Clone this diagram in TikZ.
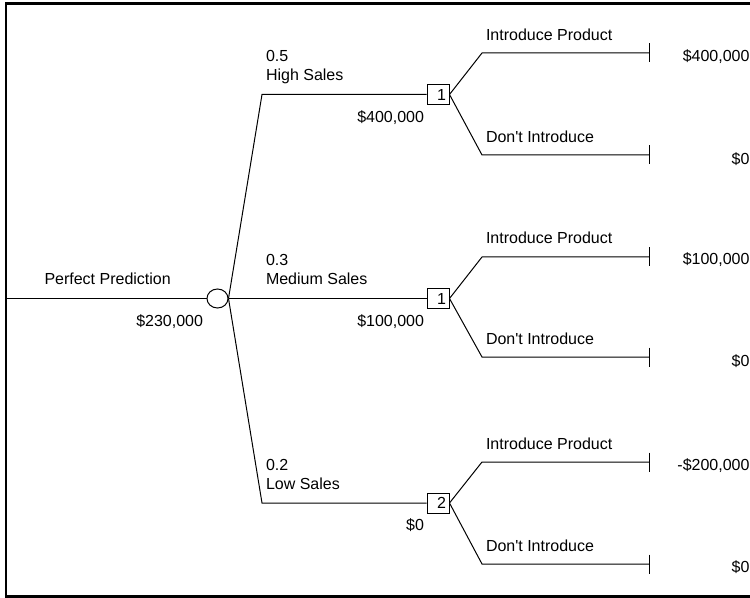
\documentclass[tikz,border=0pt]{standalone}
\usepackage{fontspec}
\setmainfont{Liberation Sans}
\usetikzlibrary{shapes.geometric,positioning}

\begin{document}
\begin{tikzpicture}
    [x=0.5bp, y=-0.5bp, line width=0.5bp,
    every node/.style={font=\fontsize{8bp}{9.5bp}\selectfont, inner sep=0pt},
    chance/.style={draw, ellipse, minimum width=10.5bp, minimum height=9.5bp},
    decision/.style={draw, rectangle, minimum height=10bp, text width=8bp,
      align=right, inner xsep=1.5bp},
    txt/.style={anchor=base west},
    val/.style={anchor=base east}]
  \useasboundingbox (0,0) rectangle (750,598);
  \clip (0,0) rectangle (750,598);
  % frame
  \draw[line width=1.25bp] (760,3.5) -- (6,3.5) -- (6,596.5) -- (760,596.5);

  % nodes
  \coordinate (R) at (6,298.5);
  \node[chance] (C) at (217.5,298.5) {};
  \node[decision] (D1) at (438,94.5) {1};
  \node[decision] (D2) at (438,298.5) {1};
  \node[decision] (D3) at (438,503) {2};
  \coordinate (T11) at (649,53);
  \coordinate (T12) at (649,155);
  \coordinate (T21) at (649,257);
  \coordinate (T22) at (649,357);
  \coordinate (T31) at (649,462);
  \coordinate (T32) at (649,564);

  % branches
  \draw (R) -- (C);
  \draw (C.east) -- (262,0 |- D1) -- (D1);
  \draw (C.east) -- (D2);
  \draw (C.east) -- (262,0 |- D3) -- (D3);
  \foreach \d/\a/\b in {D1/T11/T12, D2/T21/T22, D3/T31/T32} {
    \draw (\d.east) -- (482,0 |- \a) -- (\a);
    \draw (\d.east) -- (482,0 |- \b) -- (\b);
  }
  \foreach \t in {T11,T12,T21,T22,T31,T32}
    \draw (\t) ++(0,-9.5) -- ++(0,19);

  % labels
  \node[txt] (L0) at (44,285) {Perfect Prediction};
  \node[val] (V0) at (203.5,326) {\$230,000};

  \node[txt] (P1) at (265.5,62) {0.5};
  \node[txt] (N1) at (265.5,81) {High Sales};
  \node[val] (V1) at (424.5,122.5) {\$400,000};
  \node[txt] (P2) at (265.5,266) {0.3};
  \node[txt] (N2) at (265.5,285) {Medium Sales};
  \node[val] (V2) at (424.5,326) {\$100,000};
  \node[txt] (P3) at (265.5,470.5) {0.2};
  \node[txt] (N3) at (265.5,489.5) {Low Sales};
  \node[val] (V3) at (424.5,530.5) {\$0};

  \node[txt] (A11) at (485.5,40.5) {Introduce Product};
  \node[txt] (A12) at (485.5,142.5) {Don\textquotesingle t Introduce};
  \node[txt] (A21) at (485.5,244) {Introduce Product};
  \node[txt] (A22) at (485.5,344) {Don\textquotesingle t Introduce};
  \node[txt] (A31) at (485.5,449) {Introduce Product};
  \node[txt] (A32) at (485.5,551) {Don\textquotesingle t Introduce};

  \node[val] (E11) at (750,61.5) {\$400,000};
  \node[val] (E12) at (750,165) {\$0};
  \node[val] (E21) at (750,265) {\$100,000};
  \node[val] (E22) at (750,367) {\$0};
  \node[val] (E31) at (750,470.5) {-\$200,000};
  \node[val] (E32) at (750,572) {\$0};
\end{tikzpicture}
\end{document}
